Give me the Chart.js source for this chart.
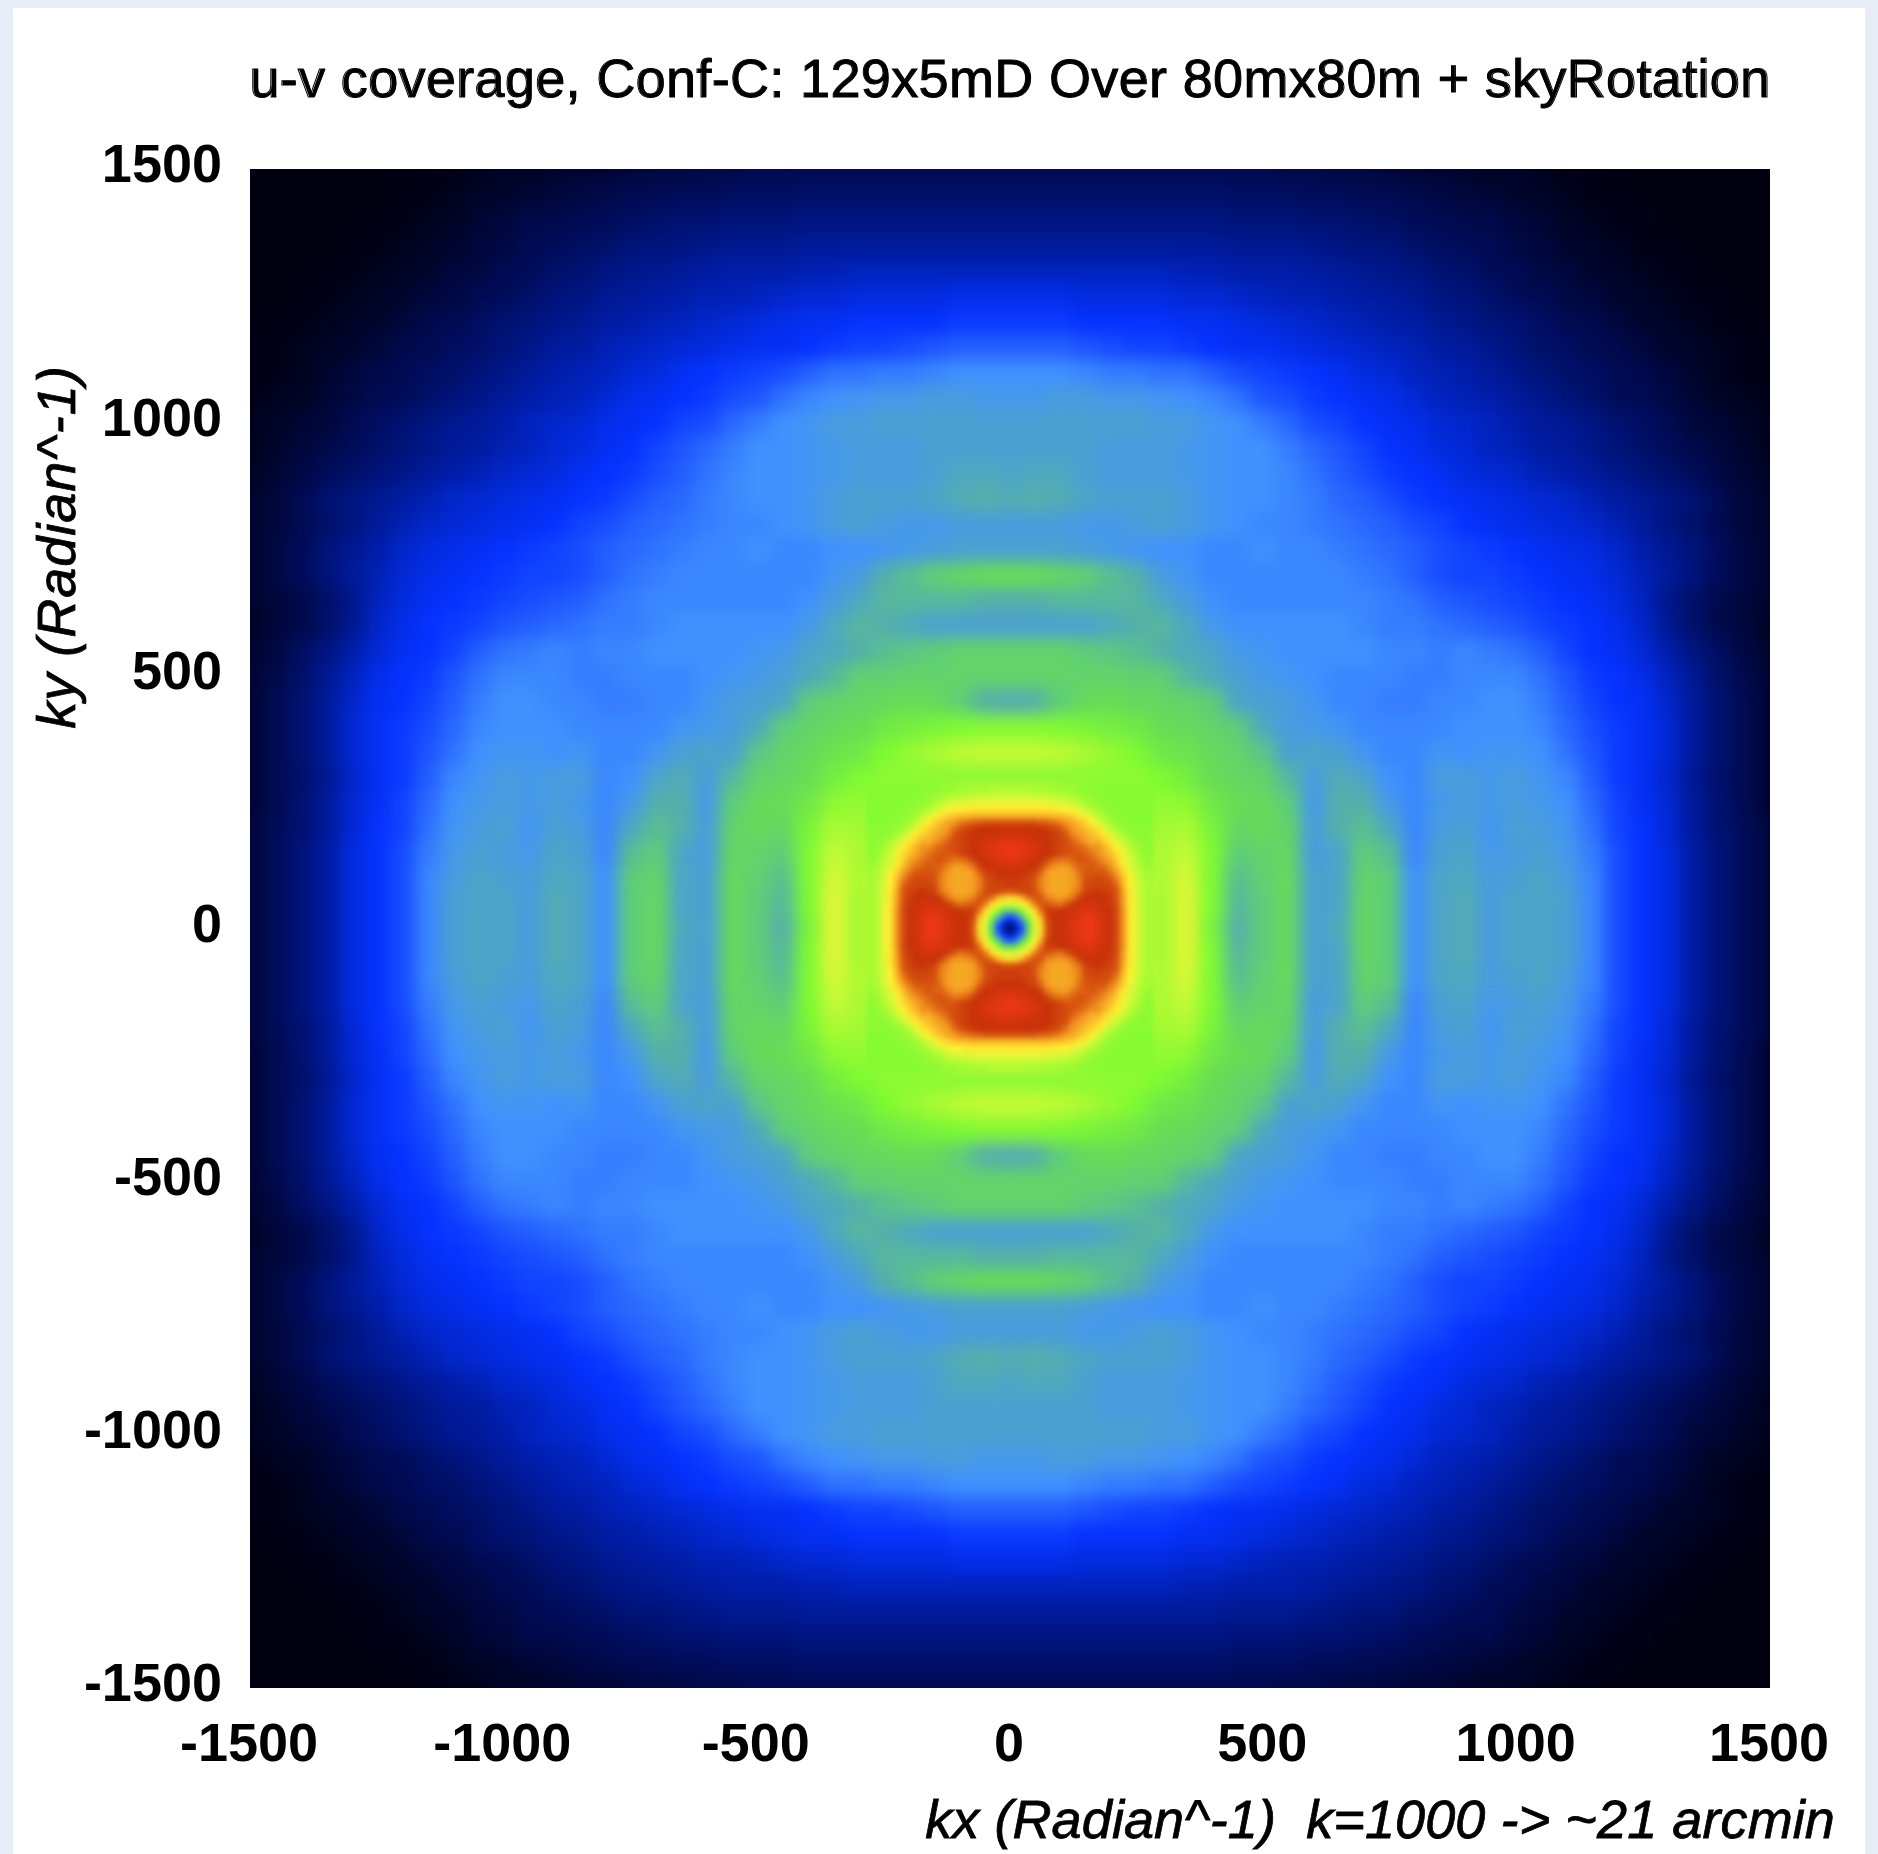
<!DOCTYPE html>
<html><head><meta charset="utf-8">
<style>
html,body{margin:0;padding:0;width:1878px;height:1854px;overflow:hidden;background:#e7edf6;}
#card{position:absolute;left:13px;top:8px;width:1852px;height:1846px;background:#fff;}
canvas{position:absolute;left:0;top:0;}
</style>
<script src="https://cdn.jsdelivr.net/npm/chart.js@4/dist/chart.umd.js"></script>
</head><body><div id="card"></div><canvas id="c" width="1878" height="1854"></canvas>
<script>
const TITLE_TEXT = "u-v coverage, Conf-C: 129x5mD Over 80mx80m + skyRotation";
const X_TITLE = "kx (Radian^-1)  k=1000 -> ~21 arcmin";
const Y_TITLE = "ky (Radian^-1)";
const tickValues = [-1500,-1000,-500,0,500,1000,1500];

// colour ramp (level -> colour)
const rampLevels = [0,10,20,28,33,38,42,46,50,55,60,66,70,75,80,84,88,92,100];
const rampColors = [[0,0,16],[0,12,90],[0,30,170],[5,50,255],[35,95,255],[65,145,255],[75,160,210],[85,175,170],[95,205,120],[105,220,85],[125,250,50],[170,250,50],[205,250,55],[255,240,50],[250,190,40],[240,145,30],[215,85,15],[200,50,10],[235,55,20]];

// coarse intensity levels: upper-right quadrant, one row per ky
const coarseStep = 50;
const coarseLevels = [
[90,90,90,90,90,73,65,72,59,46,50,54,42,44,53,50,38,43,45,41,43,43,42,37,31,28,25,19,14,10,6],
[90,90,90,90,90,73,65,72,60,47,50,54,42,43,53,50,38,43,45,41,43,43,42,37,31,28,25,19,14,10,6],
[90,90,90,90,88,71,66,71,60,48,51,54,42,43,52,50,38,43,44,41,42,43,41,37,31,28,25,19,14,10,6],
[90,90,88,85,78,69,66,69,60,50,52,53,41,43,50,48,37,42,43,40,41,42,40,36,31,28,25,19,14,10,6],
[92,90,88,79,67,63,65,66,59,53,54,52,41,46,48,44,37,41,42,39,42,41,39,35,30,28,24,18,13,10,6],
[73,72,71,65,61,62,63,62,57,55,54,50,40,46,46,40,37,40,41,40,41,40,38,34,30,27,24,18,13,9,5],
[62,62,62,62,62,62,60,58,55,53,52,47,41,45,43,38,37,41,41,40,41,39,37,33,29,27,23,17,12,9,5],
[69,69,68,66,63,60,57,56,54,52,49,42,43,42,39,37,37,39,38,39,39,38,35,32,29,27,24,18,13,9,5],
[61,61,60,59,58,57,55,54,52,50,44,41,40,39,37,37,37,37,38,38,38,37,34,31,29,27,24,18,13,9,5],
[45,46,50,54,55,54,53,52,50,43,42,41,39,37,37,36,36,37,37,38,38,36,33,30,28,27,23,18,13,9,5],
[52,52,52,52,52,51,51,47,44,42,40,39,38,37,37,37,36,36,37,37,37,35,32,29,28,26,22,17,12,8,5],
[52,52,52,50,49,48,46,44,43,40,39,38,38,38,38,37,37,36,37,36,35,33,30,28,27,24,20,15,11,7,4],
[42,42,42,42,44,46,47,44,40,38,38,38,38,38,37,36,36,35,34,33,32,30,29,28,26,23,17,12,8,6,3],
[46,46,47,47,47,47,44,41,38,37,37,37,37,37,37,36,35,33,32,31,30,29,28,27,25,22,16,12,8,6,4],
[55,55,53,51,48,46,41,39,37,37,37,37,37,37,36,35,33,31,30,30,29,28,27,26,24,21,18,14,10,7,4],
[42,42,42,41,40,39,38,38,37,37,38,37,37,36,35,34,33,31,30,29,28,27,26,25,23,20,17,14,10,7,4],
[41,41,41,40,40,41,42,41,39,38,37,37,36,35,34,33,31,30,28,27,26,25,24,23,21,18,15,12,9,6,4],
[45,46,45,43,42,42,42,41,39,38,38,37,36,34,33,31,29,28,27,26,25,24,23,21,19,17,15,13,9,6,4],
[43,44,44,42,41,41,41,40,39,38,38,37,35,33,31,29,28,27,25,24,23,21,20,18,16,14,12,10,7,5,3],
[42,42,42,42,41,41,41,40,39,38,38,36,34,32,30,28,27,25,24,22,21,19,18,16,14,12,10,8,6,4,2],
[42,42,42,42,42,42,41,41,39,38,36,34,31,30,28,27,26,24,23,22,20,18,17,15,13,11,9,6,5,3,2],
[40,40,41,41,40,40,39,38,37,35,32,31,29,28,27,26,24,22,21,20,18,16,14,12,10,9,7,5,3,2,1],
[38,38,38,37,36,36,35,35,33,31,30,29,28,27,25,24,22,21,20,18,16,14,12,11,9,8,6,4,2,1,1],
[33,33,33,32,31,30,30,29,28,27,27,26,25,24,23,22,21,19,18,16,14,12,11,9,8,6,4,3,2,1,1],
[29,29,29,28,28,28,28,27,27,26,25,24,23,22,21,20,19,17,16,14,13,11,9,8,6,4,3,2,1,1,0],
[26,26,26,25,25,25,25,24,24,23,22,21,21,20,19,18,17,15,14,12,10,9,7,6,4,3,2,1,1,0,0],
[22,22,22,22,22,22,22,21,21,20,20,20,19,18,17,16,15,13,12,10,9,7,6,4,3,2,1,1,0,0,0],
[18,18,18,18,18,18,18,18,18,17,17,17,16,15,14,14,12,11,10,9,7,6,4,3,2,1,1,0,0,0,0],
[15,15,15,15,15,15,15,15,15,14,14,14,13,13,12,11,10,9,8,8,6,5,3,2,1,1,0,0,0,0,0],
[12,12,12,12,12,12,12,12,12,11,11,11,10,10,9,9,8,7,6,5,4,3,2,1,1,0,0,0,0,0,0],
[9,9,9,9,9,9,9,9,9,9,9,8,8,7,7,6,5,5,4,3,3,2,1,1,0,0,0,0,0,0,0]
];

// fine intensity levels for the central structure: upper-right quadrant, one row per ky
const fineStep = 12.5;
const fineLevels = [
[0,20,30,52,70,77,88,92,92,93,96,98,100,100,97,94,92,89,84,76,73,68,66],
[20,24,34,54,71,78,88,92,92,93,96,98,100,100,97,94,92,89,84,76,73,68,66],
[30,34,48,62,74,81,90,92,92,93,95,97,99,99,96,94,92,89,84,76,73,68,66],
[52,54,62,72,77,86,91,91,92,92,94,96,97,97,95,93,92,89,84,76,73,68,66],
[70,71,74,77,85,88,88,87,86,88,91,93,94,95,94,92,91,89,83,76,73,68,66],
[77,78,81,86,88,88,85,84,83,84,86,90,92,92,92,92,91,88,83,76,72,68,66],
[88,88,90,90,89,86,83,82,82,82,84,86,90,91,92,91,90,88,82,76,72,68,66],
[91,91,90,90,88,85,83,82,82,82,83,85,89,90,90,90,89,87,81,75,72,68,66],
[91,91,91,90,89,85,83,82,82,82,83,85,88,89,90,89,88,85,80,75,71,67,65],
[92,92,92,91,90,87,83,82,82,82,83,86,88,88,88,88,86,83,78,74,70,67,65],
[95,95,94,93,92,90,86,84,83,83,85,87,87,88,87,86,84,80,76,72,69,66,64],
[98,97,96,95,93,92,90,87,86,86,87,88,88,87,86,84,82,78,74,71,68,65,63],
[100,99,98,97,95,93,92,91,90,88,88,88,87,86,84,82,80,77,73,70,67,64,62],
[100,99,98,97,96,94,92,91,90,89,88,87,86,84,84,81,78,75,72,68,65,63,62],
[97,97,96,95,94,93,92,91,90,89,87,85,83,81,81,78,76,72,69,66,64,62,62],
[94,94,94,93,93,92,92,91,90,88,85,83,82,80,78,76,72,69,66,63,62,62,62],
[92,92,92,92,92,92,91,90,88,86,83,82,80,78,76,72,68,65,63,62,62,62,62],
[88,88,88,88,88,87,87,86,85,83,82,80,78,75,72,68,65,63,62,62,61,61,61],
[81,81,81,81,81,81,81,80,80,79,78,76,74,71,68,65,63,62,62,61,61,61,61],
[76,76,76,76,76,76,76,76,75,75,74,72,70,67,65,63,62,62,61,61,61,61,61],
[73,73,73,73,73,73,73,72,72,71,70,68,66,64,63,62,62,61,61,61,61,61,61],
[70,70,70,70,70,70,69,69,68,68,67,65,64,63,62,62,61,61,61,61,61,61,61],
[67,67,67,67,66,66,66,65,65,64,64,63,62,62,62,61,61,61,61,61,61,61,61]
];

function levelColor(v){
  let i=0; while(i<rampLevels.length-2 && v>rampLevels[i+1]) i++;
  const t=Math.min(1,Math.max(0,(v-rampLevels[i])/(rampLevels[i+1]-rampLevels[i])));
  const a=rampColors[i],b=rampColors[i+1];
  return `rgb(${a.map((c,k)=>Math.round(c+(b[k]-c)*t)).join(',')})`;
}
// the picture is mirror-symmetric about both axes
function mirrored(rows,step){
  const out=[];
  rows.forEach((row,j)=>row.forEach((v,i)=>{
    for(const sx of i?[1,-1]:[1]) for(const sy of j?[1,-1]:[1])
      out.push({x:sx*i*step,y:sy*j*step,v});
  }));
  return out;
}
function cellRadius(step){
  return ctx=>{
    const s=ctx.chart.scales.x;
    return (Math.abs(s.getPixelForValue(step)-s.getPixelForValue(0))/2+1)*Math.SQRT2;
  };
}
function layer(label,rows,step){
  return {label,data:mirrored(rows,step),clip:0,showLine:false,
    pointStyle:'rect',borderWidth:0,pointBorderWidth:0,pointRadius:cellRadius(step),pointHoverRadius:cellRadius(step),
    pointBackgroundColor:c=>levelColor(c.raw?c.raw.v:0)};
}
const smoothing={coarse:8,fine:2.5};
const smoothPlugin={id:'smooth',
  beforeDraw(chart){chart.ctx.letterSpacing='0.35px';},
  beforeDatasetsDraw(chart){chart.ctx.letterSpacing='0px';},
  afterDatasetDraw(chart,args){
  const a=chart.chartArea,ctx=chart.ctx,r=smoothing[chart.data.datasets[args.index].label];
  if(!r) return;
  ctx.save();
  ctx.beginPath();ctx.rect(a.left,a.top,a.width,a.height);ctx.clip();
  ctx.filter=`blur(${r}px)`;
  ctx.drawImage(chart.canvas,a.left,a.top,a.width,a.height,a.left,a.top,a.width,a.height);
  ctx.restore();
}};
const axisTitles={id:'axisTitles',afterDraw(chart){
  const a=chart.chartArea,ctx=chart.ctx;
  ctx.save();
  ctx.fillStyle='#000';ctx.strokeStyle='#000';
  ctx.textBaseline='middle';
  // thicken the title strokes, as in the enlarged original
  ctx.font='54px "Liberation Sans"';
  ctx.letterSpacing='0.35px';
  ctx.lineWidth=1;
  ctx.textAlign='center';
  const tb=chart.titleBlock;
  ctx.strokeText(TITLE_TEXT,(a.left+a.right)/2,tb.top+50+32.4);
  ctx.font='italic 54px "Liberation Sans"';
  ctx.letterSpacing='0.1px';
  ctx.lineWidth=0.8;
  ctx.textAlign='right';
  ctx.fillText(X_TITLE,a.right+65,a.bottom+135);
  ctx.strokeText(X_TITLE,a.right+65,a.bottom+135);
  ctx.translate(a.left-190,a.top+378);
  ctx.rotate(-Math.PI/2);
  ctx.letterSpacing='1px';
  ctx.textAlign='center';
  ctx.fillText(Y_TITLE,0,0);
  ctx.strokeText(Y_TITLE,0,0);
  ctx.letterSpacing='0px';
  ctx.restore();
}};
const tickOpts={color:'#000',z:1,font:{family:'"Liberation Sans"',weight:'bold',size:54},autoSkip:false,maxRotation:0,minRotation:0,callback:v=>String(v)};
new Chart(document.getElementById('c'),{
  type:'scatter',
  data:{datasets:[layer('fine',fineLevels,fineStep),layer('coarse',coarseLevels,coarseStep)]},
  options:{
    responsive:false,animation:false,
    layout:{padding:{right:108,left:0,top:0,bottom:0}},
    plugins:{legend:{display:false},tooltip:{enabled:false},
      title:{display:true,text:TITLE_TEXT,fullSize:false,color:'#000',
        font:{family:'"Liberation Sans"',size:54,weight:'normal',lineHeight:1.2},
        padding:{top:50,bottom:54.2}}},
    scales:{
      x:{type:'linear',min:-1500,max:1500,grid:{display:false,drawTicks:false},border:{display:false},
        ticks:{...tickOpts,padding:25.5,labelOffset:-1},
        afterBuildTicks:s=>{s.ticks=tickValues.map(value=>({value}));},
        afterFit:s=>{s.height=166;}},
      y:{type:'linear',min:-1500,max:1500,grid:{display:false,drawTicks:false},border:{display:false},
        ticks:{...tickOpts,padding:28,labelOffset:-1.5},
        afterBuildTicks:s=>{s.ticks=tickValues.map(value=>({value}));},
        afterFit:s=>{s.width=250;}}
    }
  },
  plugins:[smoothPlugin,axisTitles]
});
</script></body></html>
